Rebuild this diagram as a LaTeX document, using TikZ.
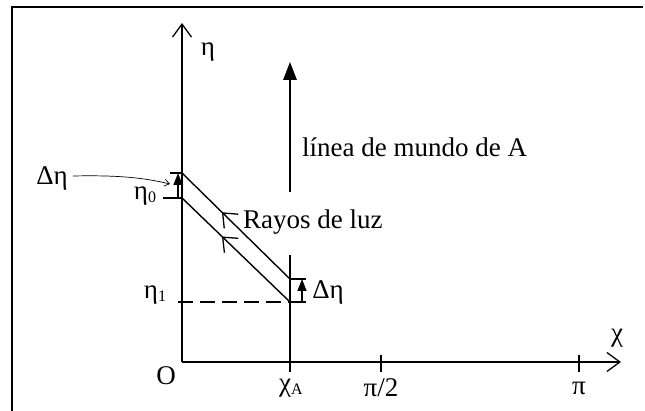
\documentclass[tikz,border=0pt]{standalone}
\usepackage{fontspec}
\setmainfont{Liberation Serif}
\usetikzlibrary{arrows.meta,decorations.markings}
\newcommand{\smallidx}[1]{\raisebox{-3pt}{\fontsize{16}{16}\selectfont #1}}
\tikzset{
  lbl/.style={inner sep=0pt, font=\fontsize{27}{30}\selectfont},
  axis/.style={line width=1.4pt, -{Straight Barb[length=13pt,width=19pt,line width=1.3pt]}},
  thin line/.style={line width=1.4pt},
  fillarrow/.style={line width=1.6pt, -{Triangle[length=#1,width=0.75*#1]}},
  ray/.style={line width=1.4pt, postaction={decorate},
    decoration={markings, mark=at position 0.63 with {\arrow{Straight Barb[length=12pt,width=20pt,line width=1.3pt]}}}},
}
\begin{document}
\begin{tikzpicture}[x=1pt,y=-1pt]
\useasboundingbox (0,0) rectangle (645,411);
% frame
\draw[line width=2pt] (12,411) -- (12,7) -- (643,7);
% axes
\coordinate (O) at (182,362);
\coordinate (etatop) at (182,23);
\coordinate (chiend) at (621,362);
\draw[axis] (O) -- (etatop);
\draw[axis] (O) -- (chiend);
\node[lbl] (eta) at (208,52) {η};
\node[lbl] (chi) at (617,338) {χ};
\node[lbl] (o) at (166,376) {O};
% ticks on the chi axis
\coordinate (tA) at (290,372);
\coordinate (tAtop) at (290,255);
\draw[thin line] (tA) -- (tAtop);
\coordinate (thalf) at (381,355);
\coordinate (thalfb) at (381,372);
\draw[thin line] (thalf) -- (thalfb);
\coordinate (tpi) at (579,355);
\coordinate (tpib) at (579,372);
\draw[thin line] (tpi) -- (tpib);
\node[lbl] (chiA) at (291,388) {χ\smallidx{A}};
\node[lbl] (half) at (381,388) {π/2};
\node[lbl] (pi) at (579,388) {π};
% world line of A
\coordinate (wlow) at (290,192);
\coordinate (wtop) at (290,62);
\draw[fillarrow=18pt] (wlow) -- (wtop);
\node[lbl, anchor=base west] (world) at (302,157) {línea de mundo de A};
% light rays
\coordinate (e0) at (182,198);
\coordinate (e0d) at (182,173);
\coordinate (e1) at (290,302);
\coordinate (e1d) at (290,279);
\draw[ray] (e1) -- (e0);
\draw[ray] (e1d) -- (e0d);
\node[lbl, anchor=base west] (rays) at (243,229) {Rayos de luz};
% eta_0 side
\coordinate (e0l) at (163,198);
\coordinate (e0dl) at (170,173);
\draw[thin line] (e0l) -- (e0);
\draw[thin line] (e0dl) -- (e0d);
\coordinate (da) at (178,198);
\coordinate (db) at (178,173);
\draw[fillarrow=12pt] (da) -- (db);
\node[lbl] (eta0) at (145,196) {η\smallidx{0}};
\node[lbl] (deta0) at (52,178) {Δη};
\coordinate (pointer) at (170,184);
\draw[line width=0.7pt, -{Straight Barb[length=5pt,width=7pt]}]
  (deta0.east) ++(5,-2) .. controls (120,175) and (145,178) .. (pointer);
% eta_1 side
\coordinate (e1l) at (178,302);
\draw[line width=1.6pt, dash pattern=on 15pt off 7pt] (e1l) -- (e1);
\node[lbl] (eta1) at (155,295) {η\smallidx{1}};
\coordinate (e1r) at (306,302);
\coordinate (e1dr) at (306,279);
\draw[thin line] (e1) -- (e1r);
\draw[thin line] (e1d) -- (e1dr);
\coordinate (ra) at (302,302);
\coordinate (rb) at (302,279);
\draw[fillarrow=12pt] (ra) -- (rb);
\node[lbl] (deta1) at (328,292) {Δη};
\end{tikzpicture}
\end{document}
